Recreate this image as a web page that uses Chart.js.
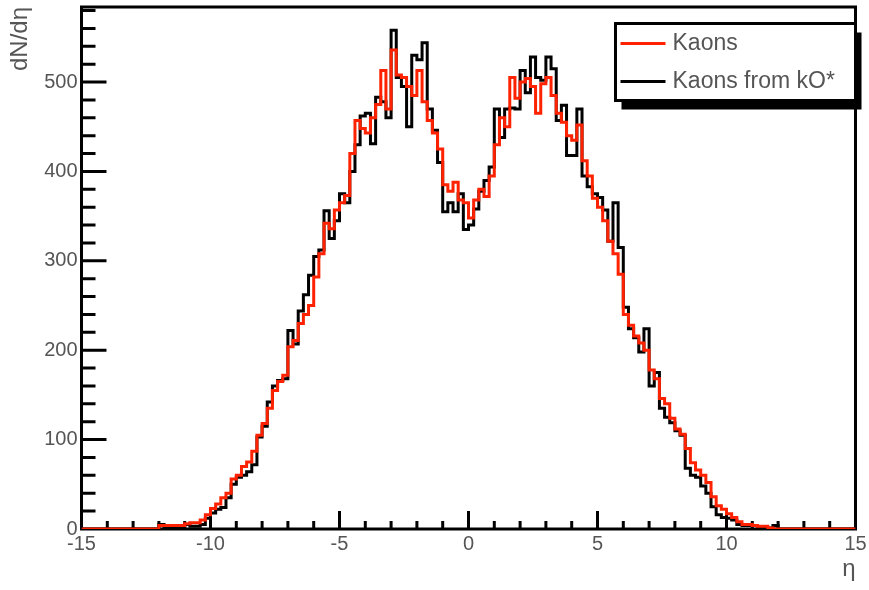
<!DOCTYPE html>
<html>
<head>
<meta charset="utf-8">
<title>Kaons dN/deta</title>
<script src="https://cdn.jsdelivr.net/npm/chart.js@4.4.1/dist/chart.umd.min.js"></script>
<style>
  html, body { margin: 0; padding: 0; background: #fff; }
  #wrap { width: 869px; height: 590px; }
</style>
</head>
<body>
<div id="wrap"><canvas id="chart" width="869" height="590"></canvas></div>
<script>
// eta axis and histogram binning
const etaMin = -15, etaMax = 15;
const binStart = -12.0, binWidth = 0.2;
const xTickValues = [-15, -10, -5, 0, 5, 10, 15];
const yTickValues = [0, 100, 200, 300, 400, 500];
const yMax = 584;
const seriesLabels = ["Kaons", "Kaons from kO*"];
const seriesColors = ["#ff2200", "#000000"];

// bin contents, eta from -12 to 12 in steps of 0.2
const kaons = [
    4, 4, 4, 4, 4, 6, 7, 7, 10, 16,
    23, 28, 35, 40, 56, 60, 70, 75, 87, 105,
    118, 135, 155, 165, 172, 204, 211, 230, 240, 250,
    282, 308, 342, 336, 357, 365, 373, 420, 457, 448,
    443, 460, 475, 513, 470, 536, 508, 505, 495, 485,
    513, 478, 457, 443, 425, 385, 378, 388, 368, 365,
    348, 368, 380, 372, 395, 430, 460, 450, 505, 482,
    500, 504, 495, 465, 498, 505, 485, 465, 455, 440,
    435, 452, 412, 395, 370, 360, 345, 322, 308, 285,
    240, 228, 216, 208, 200, 178, 168, 146, 140, 124,
    112, 106, 90, 74, 66, 60, 52, 36, 26, 22,
    17, 13, 8, 5, 5, 4, 3, 3, 1, 0
];
const kaonsFromK0 = [
    5, 2, 2, 2, 2, 5, 3, 3, 5, 12,
    18, 22, 24, 35, 50, 58, 60, 64, 72, 103,
    115, 142, 160, 166, 168, 222, 207, 244, 262, 284,
    305, 312, 356, 325, 345, 375, 365, 400, 430, 462,
    465, 431, 483, 478, 460, 558, 505, 495, 450, 530,
    525, 544, 470, 446, 410, 355, 365, 355, 375, 335,
    340, 358, 378, 390, 405, 470, 438, 470, 471, 470,
    513, 488, 528, 505, 502, 528, 515, 457, 474, 418,
    418, 470, 395, 383, 375, 371, 357, 322, 365, 315,
    248, 224, 214, 198, 224, 160, 175, 135, 125, 119,
    110, 105, 68, 60, 58, 48, 40, 25, 16, 13,
    12, 10, 5, 4, 4, 4, 2, 1, 1, 4
];

const textColor = "#555";
const fontFamily = "'Liberation Sans', Arial, sans-serif";

// turn bin contents into a ROOT style step outline
function histPoints(values) {
    const pts = [{ x: etaMin, y: 0 }, { x: binStart, y: 0 }];
    values.forEach((v, i) => {
        const lo = binStart + i * binWidth;
        pts.push({ x: lo, y: v }, { x: lo + binWidth, y: v });
    });
    pts.push({ x: binStart + values.length * binWidth, y: 0 }, { x: etaMax, y: 0 });
    return pts;
}

// frame with inward ticks, and the boxed legend with shadow
const rootFrame = {
    id: "rootFrame",
    beforeDatasetsDraw(chart) {
        const { ctx, chartArea: a, scales: { x, y } } = chart;
        ctx.save();
        ctx.strokeStyle = "#000";
        ctx.lineWidth = 3;
        ctx.strokeRect(a.left, a.top, a.right - a.left, a.bottom - a.top);
        ctx.beginPath();
        for (let v = 20; v <= yMax; v += 20) {
            const py = y.getPixelForValue(v);
            const len = v % 100 === 0 ? 25 : 14;
            ctx.moveTo(a.left, py);
            ctx.lineTo(a.left + len, py);
        }
        for (let v = etaMin + 1; v < etaMax; v += 1) {
            const px = x.getPixelForValue(v);
            const len = v % 5 === 0 ? 18 : 8;
            ctx.moveTo(px, a.bottom);
            ctx.lineTo(px, a.bottom - len);
        }
        ctx.stroke();
        ctx.restore();
    },
    afterDraw(chart) {
        const { ctx, chartArea: a } = chart;
        const w = 240, h = 77;
        const left = a.right - w, top = a.top + 16.5;
        ctx.save();
        ctx.fillStyle = "#000";
        ctx.fillRect(left + 6, top + 9, w, h);
        ctx.fillStyle = "#fff";
        ctx.fillRect(left, top, w, h);
        ctx.strokeStyle = "#000";
        ctx.lineWidth = 3;
        ctx.strokeRect(left, top, w, h);
        ctx.font = "23px " + fontFamily;
        ctx.textBaseline = "middle";
        chart.data.datasets.forEach((ds, i) => {
            const ry = top + 20 + i * 38;
            ctx.strokeStyle = ds.borderColor;
            ctx.beginPath();
            ctx.moveTo(left + 5, ry);
            ctx.lineTo(left + 50, ry);
            ctx.stroke();
            ctx.fillStyle = textColor;
            ctx.fillText(ds.label, left + 57, ry);
        });
        ctx.restore();
    }
};

new Chart(document.getElementById("chart"), {
    type: "line",
    data: {
        datasets: [
            { label: seriesLabels[0], data: histPoints(kaons), borderColor: seriesColors[0] },
            { label: seriesLabels[1], data: histPoints(kaonsFromK0), borderColor: seriesColors[1] }
        ]
    },
    options: {
        responsive: false,
        animation: false,
        elements: {
            line: { borderWidth: 3, tension: 0, fill: false, borderJoinStyle: "miter", borderCapStyle: "butt" },
            point: { radius: 0, hoverRadius: 0 }
        },
        layout: { padding: { top: 7, right: 13.5, left: 0, bottom: 0 } },
        plugins: { legend: { display: false }, tooltip: { enabled: false } },
        scales: {
            x: {
                type: "linear", min: etaMin, max: etaMax,
                grid: { display: false, drawTicks: false },
                border: { display: false },
                afterBuildTicks: (s) => { s.ticks = xTickValues.map((v) => ({ value: v })); },
                afterFit: (s) => { s.height = 61; s.paddingLeft = 0; s.paddingRight = 0; },
                ticks: { autoSkip: false, maxRotation: 0, padding: 3, color: textColor, font: { family: fontFamily, size: 20 } },
                title: { display: true, text: "η", align: "end", color: textColor, font: { family: fontFamily, size: 24 }, padding: { top: 0, bottom: 6 } }
            },
            y: {
                type: "linear", min: 0, max: yMax,
                grid: { display: false, drawTicks: false },
                border: { display: false },
                afterBuildTicks: (s) => { s.ticks = yTickValues.map((v) => ({ value: v })); },
                afterFit: (s) => { s.width = 81.5; s.paddingTop = 0; s.paddingBottom = 0; },
                ticks: { padding: 4, color: textColor, font: { family: fontFamily, size: 20 } },
                title: { display: true, text: "dN/dη", align: "end", color: textColor, font: { family: fontFamily, size: 24 }, padding: { top: 6, bottom: 0 } }
            }
        }
    },
    plugins: [rootFrame]
});
</script>
</body>
</html>
